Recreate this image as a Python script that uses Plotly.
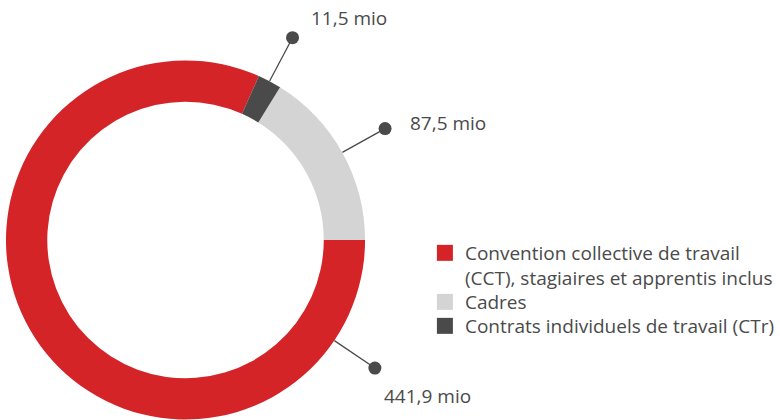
import math
import plotly.graph_objects as go

# ---- data ----
categories = [
    "Convention collective de travail<br>(CCT), stagiaires et apprentis inclus",
    "Cadres",
    "Contrats individuels de travail (CTr)",
]
values = [441.9, 87.5, 11.5]
value_labels = ["441,9 mio", "87,5 mio", "11,5 mio"]

# ---- style ----
colors = ["#D42428", "#D4D4D4", "#4A4A4A"]
text_color = "#4A4A4A"
font_family = "Open Sans"
font_size = 19
W, H = 780, 420

# pie geometry (pixel based, derived from domain)
dom_x = [6 / W, 366 / W]
dom_y = [0.0, 360 / H]
cx = (dom_x[0] + dom_x[1]) / 2 * W
cy = H - (dom_y[0] + dom_y[1]) / 2 * H
R = min((dom_x[1] - dom_x[0]) * W, (dom_y[1] - dom_y[0]) * H) / 2

total = sum(values)
rotation = 90  # light slice ends at 3 o'clock, red runs clockwise from there

fig = go.Figure()
fig.add_trace(go.Pie(
    labels=categories, values=values, hole=0.77, sort=False,
    direction="counterclockwise", rotation=rotation,
    marker=dict(colors=colors, line=dict(width=0)),
    textinfo="none", hoverinfo="label+value", showlegend=False,
    domain=dict(x=dom_x, y=dom_y),
))

# slice mid angles (clockwise from 12 o'clock), following plotly's ccw layout
spans = [v / total * 360 for v in values]
mid = [rotation + spans[0] / 2]
edge = rotation
for s in spans[1:]:
    mid.append(edge - s / 2)
    edge -= s
leader_angles = [124, mid[1], mid[2]]
text_offsets = [(7, 28), (23, -6), (17, -20)]

annotations = []
for i, a in enumerate(leader_angles):
    rad = math.radians(a)
    x0, y0 = cx + R * math.sin(rad), cy - R * math.cos(rad)
    x1, y1 = cx + (R + 49) * math.sin(rad), cy - (R + 49) * math.cos(rad)
    fig.add_trace(go.Scatter(
        x=[x0, x1], y=[y0, y1], mode="lines+markers",
        line=dict(color=text_color, width=1.3),
        marker=dict(size=[0, 13], color=text_color, opacity=1,
                    line=dict(width=0)),
        hoverinfo="skip", showlegend=False,
    ))
    dx, dy = text_offsets[i]
    annotations.append(dict(
        x=x1 + dx, y=y1 + dy, xref="x", yref="y", text=value_labels[i],
        showarrow=False, xanchor="left", yanchor="middle",
        font=dict(size=font_size, color=text_color, family=font_family),
    ))

# legend entries: one legend each so rows sit exactly where they should
legend_tops = [234, 283, 307]
legend_names = ["legend", "legend2", "legend3"]
for name, c, lg in zip(categories, colors, legend_names):
    fig.add_trace(go.Scatter(
        x=[None], y=[None], mode="markers", name=name, legend=lg,
        marker=dict(symbol="square", size=16, color=c),
    ))

legend_style = dict(
    xanchor="left", yanchor="top", valign="top",
    font=dict(size=font_size, color=text_color, family=font_family),
    bgcolor="rgba(0,0,0,0)",
)
layout_legends = {}
for lg, top in zip(legend_names, legend_tops):
    layout_legends[lg] = dict(x=426 / W, y=1 - top / H, **legend_style)

fig.update_layout(
    width=W, height=H,
    margin=dict(l=0, r=0, t=0, b=0),
    paper_bgcolor="white", plot_bgcolor="white",
    font=dict(family=font_family, color=text_color, size=font_size),
    xaxis=dict(range=[0, W], visible=False, fixedrange=True),
    yaxis=dict(range=[H, 0], visible=False, fixedrange=True),
    annotations=annotations,
    showlegend=True,
    **layout_legends,
)

fig.write_html(
    "out.html",
    config={"displayModeBar": False},
    post_script="document.body.style.margin='0';",
)
